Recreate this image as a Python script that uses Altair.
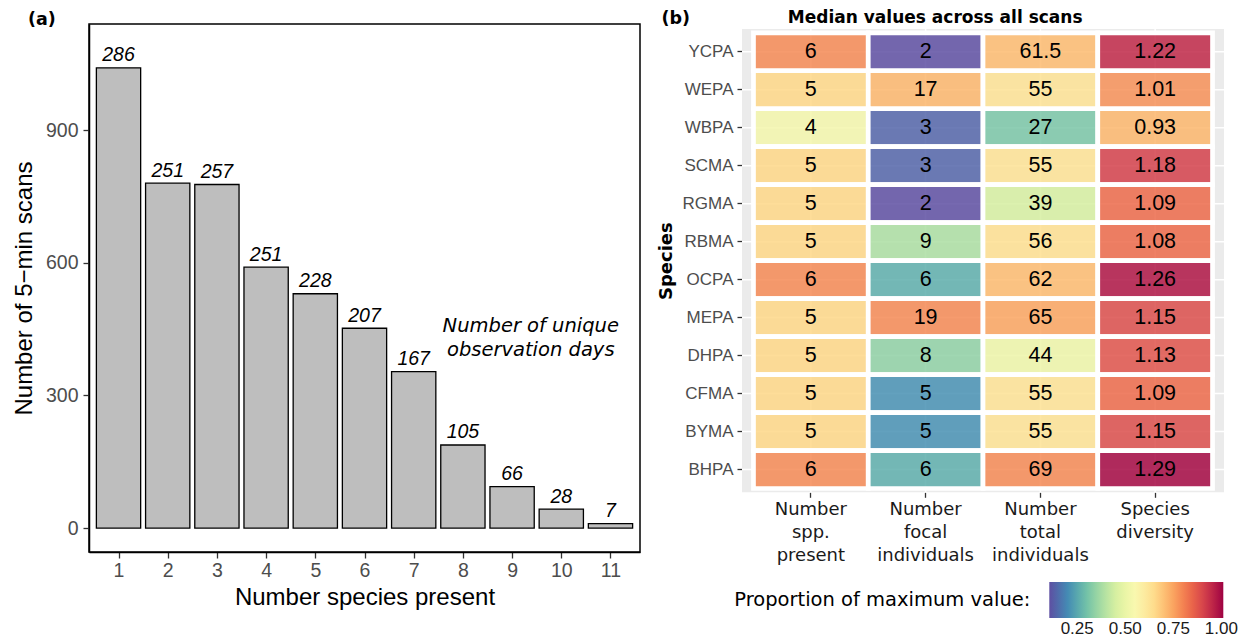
import altair as alt
import pandas as pd

# ---------------- Panel (a) data ----------------
n_species = list(range(1, 12))
n_scans = [1041, 780, 777, 590, 530, 452, 354, 188, 94, 43, 10]
n_days = [286, 251, 257, 251, 228, 207, 167, 105, 66, 28, 7]
y_ticks = [0, 300, 600, 900]

# ---------------- Panel (b) data ----------------
species = ["YCPA", "WEPA", "WBPA", "SCMA", "RGMA", "RBMA",
           "OCPA", "MEPA", "DHPA", "CFMA", "BYMA", "BHPA"]
metrics = ["Number spp. present", "Number focal individuals",
           "Number total individuals", "Species diversity"]
spp_present = [6, 5, 4, 5, 5, 5, 6, 5, 5, 5, 5, 6]
focal_ind = [2, 17, 3, 3, 2, 9, 6, 19, 8, 5, 5, 6]
total_ind = [61.5, 55, 27, 55, 39, 56, 62, 65, 44, 55, 55, 69]
diversity = [1.22, 1.01, 0.93, 1.18, 1.09, 1.08, 1.26, 1.15, 1.13, 1.09, 1.15, 1.29]
prop_spp = [0.79, 0.66, 0.53, 0.66, 0.66, 0.66, 0.79, 0.66, 0.66, 0.66, 0.66, 0.79]
prop_focal = [0.105, 0.72, 0.14, 0.14, 0.105, 0.38, 0.26, 0.79, 0.34, 0.21, 0.21, 0.26]
prop_total = [0.71, 0.63, 0.31, 0.63, 0.45, 0.64, 0.71, 0.75, 0.51, 0.63, 0.63, 0.79]
prop_div = [0.95, 0.78, 0.72, 0.91, 0.84, 0.84, 0.98, 0.89, 0.88, 0.84, 0.89, 1.0]
legend_ticks = [0.25, 0.5, 0.75, 1.0]
prop_domain = [0.105, 1.01]

SANS = "Liberation Sans"
DJV = "DejaVu Sans"
one = pd.DataFrame({"k": [0]})

# ---------------- Panel (a) ----------------
df_a = pd.DataFrame({"n": n_species, "scans": n_scans, "days": n_days})
xs_a = alt.Scale(domain=[0.4, 11.6], nice=False, zero=False)
ys_a = alt.Scale(domain=[-54, 1140], nice=False, zero=False)
X_TITLE = "Number species present"
Y_TITLE = "Number of 5\u2212min scans"
ax_x_a = alt.Axis(values=n_species, format="d", title=X_TITLE,
                  grid=False, labelFont=SANS, labelFontSize=19.5, labelColor="#4D4D4D",
                  titleFont=SANS, titleFontSize=24, titleFontWeight="normal", titleColor="black",
                  tickSize=6, tickColor="#333333", tickWidth=1.3, domainColor="black",
                  domainWidth=1.5, labelPadding=3, titlePadding=6)
ax_y_a = alt.Axis(values=y_ticks, title=Y_TITLE, grid=False,
                  labelFont=SANS, labelFontSize=19.5, labelColor="#4D4D4D",
                  titleFont=SANS, titleFontSize=24, titleFontWeight="normal", titleColor="black",
                  tickSize=6, tickColor="#333333", tickWidth=1.3, domainColor="black",
                  domainWidth=1.5, labelPadding=5, titlePadding=9)

bars = alt.Chart(df_a).transform_calculate(
    x0="datum.n - 0.45", x1="datum.n + 0.45"
).mark_rect(fill="#BEBEBE", stroke="black", strokeWidth=1.3).encode(
    x=alt.X("x0:Q", scale=xs_a, axis=ax_x_a, title=X_TITLE),
    x2="x1:Q",
    y=alt.Y("scans:Q", scale=ys_a, axis=ax_y_a, title=Y_TITLE),
    y2=alt.datum(0),
)

bar_labels = alt.Chart(df_a).mark_text(
    font=SANS, fontStyle="italic", fontSize=19.5, baseline="alphabetic",
    dy=-6.5, color="black"
).encode(
    x=alt.X("n:Q", scale=xs_a, axis=ax_x_a, title=X_TITLE),
    y=alt.Y("scans:Q", scale=ys_a, axis=ax_y_a, title=Y_TITLE),
    text="days:Q",
)

note = alt.Chart(one).mark_text(
    text=["Number of unique", "observation days"], font=DJV, fontStyle="italic",
    fontSize=19.5, lineHeight=24, align="center", baseline="middle", color="black"
).encode(
    x=alt.XDatum(9.38, type="quantitative", scale=xs_a, axis=ax_x_a, title=X_TITLE),
    y=alt.YDatum(457, type="quantitative", scale=ys_a, axis=ax_y_a, title=Y_TITLE),
)

tag_a = alt.Chart(one).mark_text(
    text="(a)", font=DJV, fontWeight="bold", fontSize=17.5, align="left",
    baseline="middle", color="black"
).encode(x=alt.value(-61), y=alt.value(-4))

left = alt.layer(bars, bar_labels, note, tag_a).properties(
    width=551, height=528,
    view=alt.ViewBackground(fill="white", stroke="black", strokeWidth=1.5),
)

# ---------------- Panel (b) ----------------
rows = []
for i, sp in enumerate(species):
    for m, vals, props in zip(metrics,
                              [spp_present, focal_ind, total_ind, diversity],
                              [prop_spp, prop_focal, prop_total, prop_div]):
        rows.append({"species": sp, "metric": m, "value": vals[i],
                     "label": f"{vals[i]:g}", "prop": props[i]})
df_b = pd.DataFrame(rows)

W_B, H_B, TOP_GAP = 482, 468.3, 5
xs_b = alt.Scale(domain=metrics, paddingInner=0, paddingOuter=0.1)
ys_b = alt.Scale(domain=species, paddingInner=0, paddingOuter=0.1, range=[TOP_GAP, H_B])
ax_x_b = alt.Axis(title=None, labelAngle=0, labelExpr="split(datum.value, ' ')",
                  labelFont=DJV, labelFontSize=18, labelLineHeight=23, labelColor="#1A1A1A",
                  labelBaseline="top", grid=False, domain=False, tickSize=5,
                  tickColor="#333333", tickWidth=1.3, labelPadding=3)
ax_y_b = alt.Axis(title="Species", titleFont=DJV, titleFontWeight="bold", titleFontSize=18,
                  titleColor="black", labelFont=SANS, labelFontSize=17, labelColor="#4D4D4D",
                  grid=False, domain=False, tickSize=5, tickColor="#333333", tickWidth=1.3,
                  labelPadding=4, titlePadding=7)

panel_bg = alt.Chart(one).mark_rect(fill="#EBEBEB").encode(
    x=alt.value(0), x2=alt.value(W_B), y=alt.value(TOP_GAP), y2=alt.value(H_B)
)
vgrid = alt.Chart(pd.DataFrame({"metric": metrics})).mark_rule(
    color="white", strokeWidth=1.5
).encode(x=alt.X("metric:N", scale=xs_b, axis=ax_x_b), y=alt.value(TOP_GAP), y2=alt.value(H_B))
hgrid = alt.Chart(pd.DataFrame({"species": species})).mark_rule(
    color="white", strokeWidth=1.5
).encode(y=alt.Y("species:N", scale=ys_b, axis=ax_y_b), x=alt.value(0), x2=alt.value(W_B))

tiles = alt.Chart(df_b).mark_rect(stroke="white", strokeWidth=4.7, fillOpacity=0.85).encode(
    x=alt.X("metric:N", scale=xs_b, axis=ax_x_b),
    y=alt.Y("species:N", scale=ys_b, axis=ax_y_b),
    fill=alt.Fill("prop:Q",
                  scale=alt.Scale(scheme="spectral", reverse=True, domain=prop_domain),
                  legend=alt.Legend(
                      title="Proportion of maximum value:", orient="none",
                      legendX=645.3, legendY=558, direction="horizontal",
                      titleOrient="left", gradientLength=174, gradientThickness=36,
                      gradientStrokeWidth=0, values=legend_ticks, format=".2f",
                      labelFont=SANS, labelFontSize=17, labelColor="#1A1A1A",
                      labelOffset=3, labelOverlap=False,
                      titleFont=DJV, titleFontSize=19.5, titleFontWeight="normal",
                      titleColor="black", titlePadding=18, titleBaseline="middle",
                      titleLimit=600, padding=0)),
)

tile_text = alt.Chart(df_b).mark_text(
    font=SANS, fontSize=21.5, color="black", baseline="middle", align="center"
).encode(
    x=alt.X("metric:N", scale=xs_b, axis=ax_x_b),
    y=alt.Y("species:N", scale=ys_b, axis=ax_y_b),
    text="label:N",
)

tag_b = alt.Chart(one).mark_text(
    text="(b)", font=DJV, fontWeight="bold", fontSize=17.5, align="left",
    baseline="middle", color="black"
).encode(x=alt.value(-80.6), y=alt.value(-5))

title_b = alt.Chart(one).mark_text(
    text="Median values across all scans", font=DJV, fontWeight="bold", fontSize=17,
    align="center", baseline="alphabetic", color="black"
).encode(x=alt.value(193.2), y=alt.value(-1.5))

right = alt.layer(panel_bg, vgrid, hgrid, tiles, tile_text, tag_b, title_b).properties(
    width=W_B, height=H_B,
    view=alt.ViewBackground(fill="transparent", stroke="transparent"),
)

chart = alt.hconcat(left, right, spacing=15).properties(
    padding={"left": 3, "top": 0, "right": 0, "bottom": 0}
)

chart.save("out.html", embed_options={"renderer": "svg", "actions": False})
